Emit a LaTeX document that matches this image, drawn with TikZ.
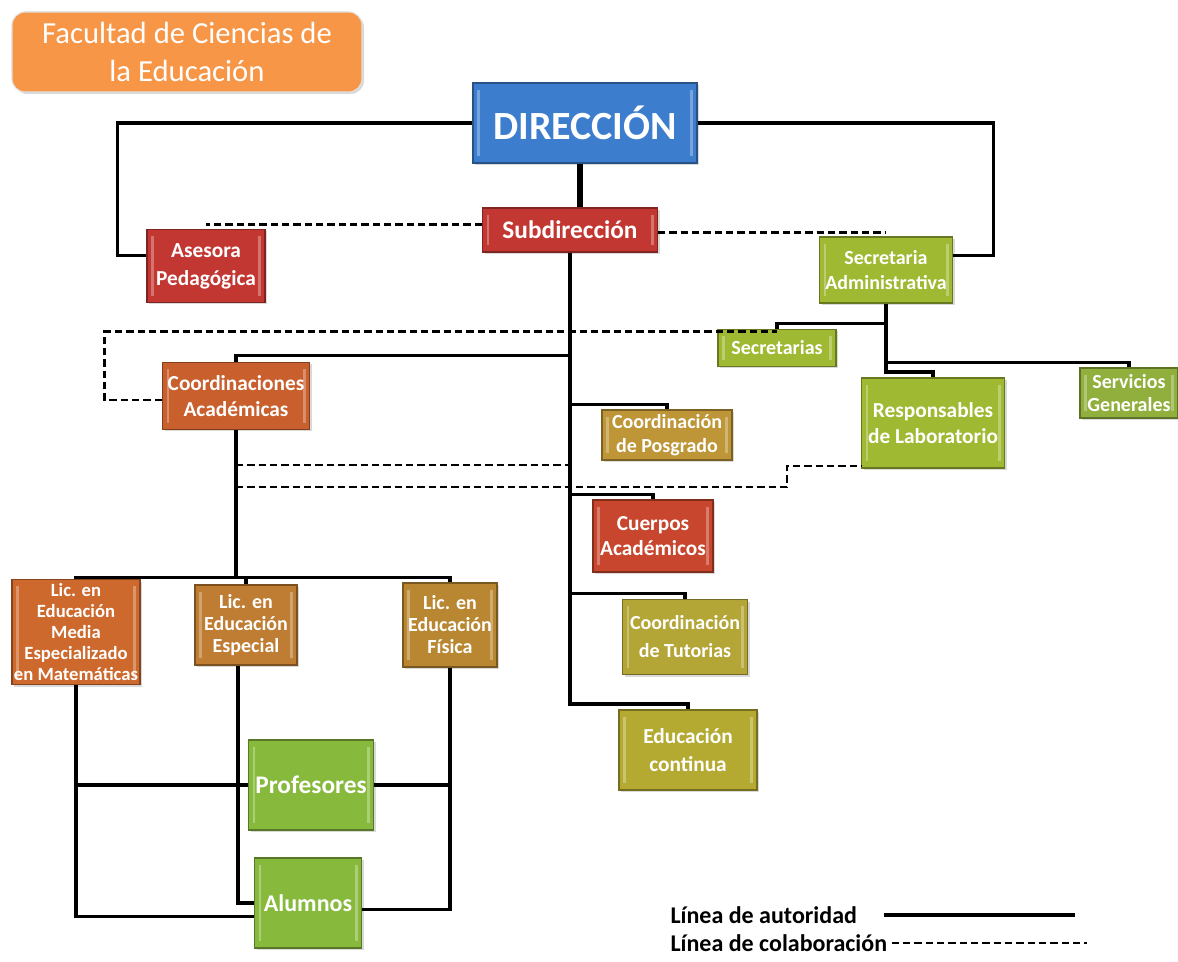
\documentclass[tikz,border=0pt]{standalone}
\usepackage{fontspec}
\setmainfont{Carlito}
\usetikzlibrary{shadows}

\tikzset{every picture/.style={line width=0.75pt}}

\definecolor{cTitle}{RGB}{247,150,70}
\definecolor{cBlue}{RGB}{61,125,205}
\definecolor{cRed}{RGB}{195,55,50}
\definecolor{cGreen}{RGB}{160,185,50}
\definecolor{cGreenB}{RGB}{145,175,60}
\definecolor{cCoord}{RGB}{200,95,45}
\definecolor{cPosg}{RGB}{190,150,55}
\definecolor{cCuer}{RGB}{200,70,45}
\definecolor{cTuto}{RGB}{180,165,55}
\definecolor{cEduc}{RGB}{180,170,50}
\definecolor{cLicM}{RGB}{205,105,45}
\definecolor{cLicE}{RGB}{190,125,50}
\definecolor{cLicF}{RGB}{185,135,50}
\definecolor{cProf}{RGB}{135,185,60}

\begin{document}
\begin{tikzpicture}[x=0.75pt,y=-0.75pt,
  box/.style={draw=#1!65!black, line width=0.8pt, fill=#1, text=white, align=center, inner sep=0pt,
    drop shadow={opacity=0.3,shadow xshift=1.5pt,shadow yshift=-1.5pt},
    path picture={
      \fill[white,opacity=0.3] ([xshift=3pt,yshift=-5pt]path picture bounding box.north west) rectangle ([xshift=5pt,yshift=5pt]path picture bounding box.south west);
      \fill[white,opacity=0.3] ([xshift=-5pt,yshift=-5pt]path picture bounding box.north east) rectangle ([xshift=-3pt,yshift=5pt]path picture bounding box.south east);
    }},
  sz/.style 2 args={minimum width=#1*0.75pt, minimum height=#2*0.75pt},
  txt/.style 2 args={font=\bfseries\fontsize{#1}{#2}\selectfont},
  auth/.style={line width=2.3pt},
  trunk/.style={line width=2.8pt},
  colab/.style={line width=1.8pt, dash pattern=on 5.5pt off 3pt}]
\useasboundingbox (0,0) rectangle (1178,962);

% Boxes
\node[box=cTitle, draw=white!75!gray, path picture={}, rounded corners=10pt, sz={350}{80}, font=\fontsize{23}{28.5}\selectfont] (fac) at (187,52) {Facultad de Ciencias de\\la Educación};
\node[box=cBlue, sz={224}{80}, txt={30}{34}] (dir) at (585,123) {DIRECCIÓN};
\node[box=cRed, sz={175}{44}, txt={19}{22}] (sub) at (570,230) {Subdirección};
\node[box=cRed, sz={118}{73}, txt={16}{21}] (ases) at (206,266) {Asesora\\Pedagógica};
\node[box=cGreen, sz={133}{66}, txt={15}{19}] (secad) at (886,270) {Secretaria\\Administrativa};
\node[box=cGreen, sz={118}{37}, txt={15}{18}] (secs) at (777,348) {Secretarias};
\node[box=cGreen, sz={143}{90}, txt={16}{20}] (resp) at (933,423) {Responsables\\de Laboratorio};
\node[box=cGreenB, sz={98}{50}, txt={15}{17}] (serv) at (1129,393) {Servicios\\Generales};
\node[box=cCoord, sz={147}{67}, txt={16}{19}] (coac) at (236,396) {Coordinaciones\\Académicas};
\node[box=cPosg, sz={130}{50}, txt={15}{18}] (posg) at (667,435) {Coordinación\\de Posgrado};
\node[box=cCuer, sz={120}{72}, txt={16}{19}] (cuer) at (653,536) {Cuerpos\\Académicos};
\node[box=cTuto, sz={125}{75}, txt={15}{21}] (tuto) at (685,637) {Coordinación\\de Tutorias};
\node[box=cEduc, sz={138}{80}, txt={16}{21}] (educ) at (688,750) {Educación\\continua};
\node[box=cLicM, sz={128}{105}, txt={14}{15.7}] (licm) at (76,632) {Lic. en\\Educación\\Media\\Especializado\\en Matemáticas};
\node[box=cLicE, sz={102}{80}, txt={15}{16.5}] (lice) at (246,625) {Lic. en\\Educación\\Especial};
\node[box=cLicF, sz={94}{84}, txt={15}{16.5}] (licf) at (450,625) {Lic. en\\Educación\\Física};
\node[box=cProf, sz={125}{90}, txt={19}{22}] (prof) at (311,785) {Profesores};
\node[box=cProf, sz={107}{90}, txt={18}{21}] (alum) at (308,903) {Alumnos};

% Linea de autoridad
\draw[auth] (dir.west) -| ([xshift=-22pt,yshift=8pt]ases.west) -- ([yshift=8pt]ases.west);
\draw[auth] (dir.east) -| ([xshift=30pt,yshift=11pt]secad.east) -- ([yshift=11pt]secad.east);
\draw[line width=4.5pt] ([xshift=-4pt]dir.south) -- ([xshift=-4pt]dir.south |- sub.north);
\draw[trunk] (sub.south) |- ([yshift=4pt]educ.north) -- (educ.north);
\draw[auth] ([yshift=4.5pt]coac.north -| sub.south) -| (coac.north);
\draw[auth] ([yshift=4pt]posg.north -| sub.south) -| (posg.north);
\draw[auth] ([yshift=4pt]cuer.north -| sub.south) -| (cuer.north);
\draw[auth] ([yshift=4pt]tuto.north -| sub.south) -| (tuto.north);
\draw[trunk] (coac.south) -- ([yshift=5pt]lice.north -| coac.south) coordinate (licbus);
\draw[auth] (licbus) -| (licm.north);
\draw[auth] (licbus) -| (lice.north);
\draw[auth] (licbus) -| (licf.north);
\draw[trunk] (secad.south) -- ([yshift=4pt]resp.north -| secad.south) -| (resp.north);
\draw[auth] ([yshift=4pt]serv.north -| secad.south) -| (serv.north);
\draw[auth] ([yshift=4pt]secs.north -| secad.south) -| (secs.north);
\draw[auth] (licm.south) |- ([yshift=-10pt]alum.west);
\draw[auth] (licm.south |- prof.west) -- (prof.west);
\draw[auth] ([xshift=-6pt]lice.south) |- (alum.west);
\draw[auth] (licf.south) |- ([yshift=-5pt]alum.east);
\draw[auth] (licf.south |- prof.east) -- (prof.east);

% Linea de colaboracion
\coordinate (dashA) at (0,465);
\coordinate (dashB) at (0,487);
\coordinate (jog) at (787,487);
\draw[colab] ([yshift=4pt]sub.west) -- ([yshift=4pt]sub.west -| ases.north);
\draw[colab] ([yshift=-2pt]sub.east) -- ([yshift=-2pt]sub.east -| secad.north);
\draw[colab] ([yshift=-3pt]coac.west) -- ++(-43pt,0) |- ([yshift=-2pt]secs.north);
\draw[colab] (coac.south |- dashA) -- (sub.south |- dashA);
\draw[colab] (coac.south |- dashB) -- (jog) |- ([yshift=2pt]resp.south west);

% Legend
\node[anchor=west, inner sep=0pt, txt={18}{21}] (legA) at (670,915) {Línea de autoridad};
\node[anchor=west, inner sep=0pt, txt={18}{21}] (legB) at (670,943) {Línea de colaboración};
\coordinate (legAend) at (1075,915);
\coordinate (legBend) at (1087,943);
\draw[line width=2.6pt] ([xshift=20pt]legA.east) -- (legAend);
\draw[colab] ([xshift=3pt]legB.east) -- (legBend);

\end{tikzpicture}
\end{document}
